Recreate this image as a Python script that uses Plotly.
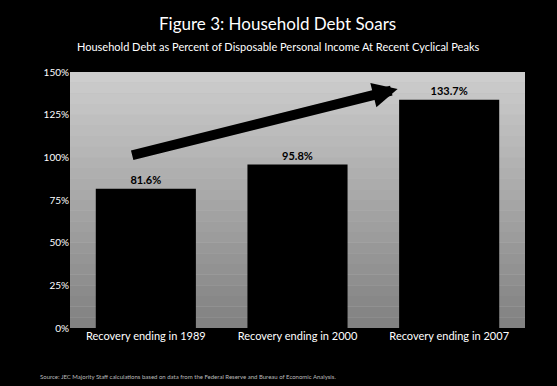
import plotly.graph_objects as go

categories = ["Recovery ending in 1989", "Recovery ending in 2000", "Recovery ending in 2007"]
debt_pct = [81.6, 95.8, 133.7]
tick_vals = [0, 25, 50, 75, 100, 125, 150]
tick_text = ["0%", "25%", "50%", "75%", "100%", "125%", "150%"]

FONT = "Lato, Open Sans, sans-serif"

fig = go.Figure()
fig.add_trace(go.Bar(
    x=categories, y=debt_pct,
    marker=dict(color="black", line=dict(width=0)),
    text=[f"{v:.1f}%" for v in debt_pct],
    textposition="outside",
    textfont=dict(family=FONT, size=11, color="black", weight="bold"),
    cliponaxis=False,
    width=0.66,
    hoverinfo="skip",
))

# gradient-like background bands in the plot area
shapes = []
n = 24
for i in range(n):
    t = i / (n - 1)
    g = int(205 - 75 * (1 - t))
    shapes.append(dict(type="rect", xref="paper", yref="paper",
                       x0=0, x1=1, y0=i / n, y1=(i + 1) / n,
                       fillcolor=f"rgb({g},{g},{g})", line=dict(width=0), layer="below"))

annotations = [
    dict(text="Figure 3: Household Debt Soars", xref="paper", yref="paper",
         x=0.457, y=1.19, xanchor="center", yanchor="middle", showarrow=False,
         font=dict(family=FONT, size=17, color="white")),
    dict(text="Household Debt as Percent of Disposable Personal Income At Recent Cyclical Peaks",
         xref="paper", yref="paper", x=0.457, y=1.098, xanchor="center", yanchor="middle",
         showarrow=False, font=dict(family=FONT, size=11, color="white")),
    dict(text="Source: JEC Majority Staff calculations based on data from the Federal Reserve and Bureau of Economic Analysis.",
         xref="paper", yref="paper", x=-0.07, y=-0.188, xanchor="left", yanchor="middle",
         showarrow=False, font=dict(family=FONT, size=6, color="#bbbbbb")),
    dict(x=1.66, y=140, ax=-0.1, ay=101, xref="x", yref="y", axref="x", ayref="y",
         text="", showarrow=True, arrowhead=2, arrowsize=0.5, arrowwidth=10,
         arrowcolor="black"),
]

fig.update_layout(
    width=557, height=386,
    margin=dict(l=70, r=32, t=72, b=58),
    paper_bgcolor="black",
    plot_bgcolor="#b8b8b8",
    showlegend=False,
    shapes=shapes,
    annotations=annotations,
    xaxis=dict(showgrid=False, zeroline=False, showline=False,
               tickfont=dict(family=FONT, size=11, color="white"),
               ticks="", range=[-0.5, 2.5]),
    yaxis=dict(range=[0, 150], tickvals=tick_vals, ticktext=tick_text,
               showgrid=False, zeroline=False, showline=False,
               tickfont=dict(family=FONT, size=10, color="white"), ticks=""),
    bargap=0.34,
)

fig.write_html("out.html", config={"displayModeBar": False},
               post_script="document.body.style.margin='0';document.body.style.background='black';document.body.style.overflow='hidden';")
